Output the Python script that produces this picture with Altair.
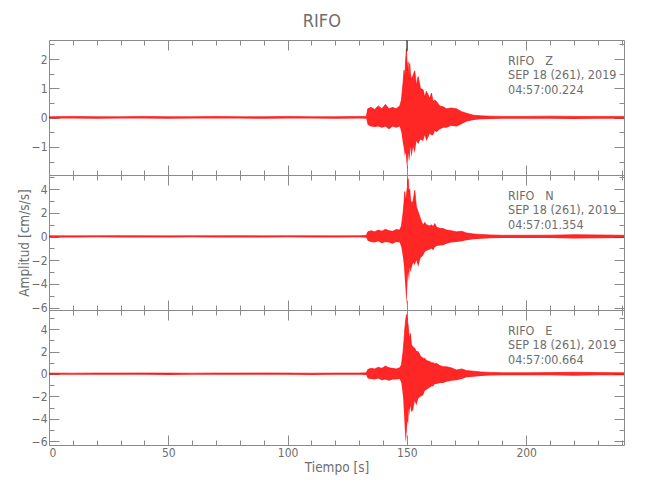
import altair as alt
import pandas as pd

# ---------------- data ----------------
STATION = "RIFO"
COMPONENTS = ["Z", "N", "E"]
DATE_LABEL = "SEP 18 (261), 2019"
START_TIMES = ["04:57:00.224", "04:57:01.354", "04:57:00.664"]

T = [0, 10, 20, 30, 40, 50, 60, 70, 80, 90, 100, 110, 120, 130,
     133.0, 133.6,
     135.0, 136.5, 138.0, 139.5, 141.0, 142.5, 144.0, 145.5, 147.0,
     147.7, 148.4, 148.8, 149.1, 149.5, 149.8, 150.2, 150.5, 150.9, 151.2, 151.5, 151.9,
     152.6, 153.3, 154.0, 154.7, 155.7, 156.8, 157.5, 158.2,
     159.6, 160.3, 161.0, 161.7, 162.4, 163.8, 165.2, 166.6, 168.5, 170.8,
     173.0, 175.0, 178.0, 181.0, 185.0,
     190, 200, 210, 220, 230, 241]

Z_HI = [0.03, 0.04, 0.03, 0.03, 0.04, 0.03, 0.03, 0.04, 0.03, 0.03, 0.04, 0.03, 0.03, 0.04,
        0.04, 0.30,
        0.35, 0.28, 0.40, 0.30, 0.45, 0.30, 0.35, 0.30, 0.40,
        0.60, 1.20, 1.62, 1.30, 2.00, 2.35, 1.60, 1.90, 1.30, 1.85, 1.50, 1.30,
        1.45, 1.60, 1.10, 1.40, 1.00, 0.95, 0.70, 0.90,
        0.65, 0.84, 0.55, 0.60, 0.55, 0.40, 0.37, 0.30, 0.33, 0.30,
        0.20, 0.15, 0.08, 0.06, 0.05,
        0.04, 0.04, 0.05, 0.04, 0.04, 0.04]
Z_LO = [-0.03, -0.03, -0.04, -0.03, -0.03, -0.04, -0.03, -0.03, -0.03, -0.04, -0.03, -0.03, -0.04, -0.03,
        -0.04, -0.25,
        -0.30, -0.32, -0.30, -0.35, -0.30, -0.40, -0.30, -0.35, -0.30,
        -0.50, -0.90, -1.07, -1.30, -1.20, -1.50, -1.76, -1.20, -1.50, -1.35, -1.00, -1.35,
        -1.00, -1.20, -0.80, -0.90, -0.75, -0.80, -0.60, -0.80,
        -0.55, -0.60, -0.60, -0.45, -0.50, -0.40, -0.35, -0.35, -0.28, -0.30,
        -0.22, -0.13, -0.08, -0.06, -0.05,
        -0.04, -0.04, -0.04, -0.05, -0.04, -0.04]

N_HI = [0.07, 0.06, 0.07, 0.08, 0.07, 0.06, 0.07, 0.07, 0.08, 0.06, 0.07, 0.07, 0.06, 0.07,
        0.09, 0.40,
        0.50, 0.40, 0.55, 0.45, 0.62, 0.50, 0.45, 0.60, 0.55,
        0.90, 2.00, 2.90, 3.80, 3.00, 3.50, 4.20, 4.90, 3.80, 4.00, 3.20, 2.80,
        3.00, 3.90, 2.50, 2.10, 1.50, 0.95, 1.20, 1.00,
        0.90, 1.00, 0.85, 1.10, 0.80, 0.70, 0.68, 0.55, 0.50, 0.40,
        0.45, 0.30, 0.22, 0.18, 0.14,
        0.11, 0.11, 0.12, 0.16, 0.14, 0.11]
N_LO = [-0.07, -0.07, -0.06, -0.07, -0.08, -0.07, -0.06, -0.07, -0.07, -0.08, -0.06, -0.07, -0.07, -0.06,
        -0.09, -0.35,
        -0.45, -0.50, -0.40, -0.56, -0.45, -0.50, -0.60, -0.45, -0.50,
        -0.90, -1.80, -2.50, -3.50, -4.60, -5.80, -4.00, -3.00, -3.80, -2.60, -3.00, -2.70,
        -2.20, -2.40, -2.00, -2.56, -1.80, -1.60, -1.30, -1.20,
        -1.10, -1.00, -1.15, -0.90, -0.80, -0.75, -0.73, -0.60, -0.50, -0.45,
        -0.40, -0.30, -0.22, -0.18, -0.14,
        -0.11, -0.11, -0.12, -0.16, -0.14, -0.11]

E_HI = [0.08, 0.07, 0.08, 0.08, 0.09, 0.08, 0.07, 0.08, 0.08, 0.09, 0.08, 0.07, 0.08, 0.08,
        0.10, 0.40,
        0.50, 0.45, 0.60, 0.50, 0.70, 0.55, 0.50, 0.45, 0.55,
        0.80, 2.00, 3.00, 4.00, 4.80, 5.30, 4.80, 4.40, 3.50, 3.20, 3.60, 2.60,
        2.40, 2.30, 2.00, 2.00, 1.60, 1.40, 1.40, 1.20,
        1.10, 1.00, 1.00, 0.90, 0.95, 0.75, 0.65, 0.65, 0.55, 0.36,
        0.45, 0.30, 0.25, 0.18, 0.14,
        0.11, 0.11, 0.12, 0.15, 0.12, 0.11]
E_LO = [-0.08, -0.08, -0.07, -0.08, -0.08, -0.09, -0.08, -0.08, -0.07, -0.08, -0.08, -0.09, -0.08, -0.08,
        -0.10, -0.40,
        -0.45, -0.50, -0.40, -0.55, -0.50, -0.60, -0.50, -0.50, -0.45,
        -0.80, -2.00, -3.50, -4.80, -6.10, -5.50, -4.20, -4.50, -3.00, -3.70, -2.80, -3.40,
        -3.20, -2.40, -2.80, -2.20, -2.00, -1.90, -1.50, -1.40,
        -1.20, -1.10, -1.10, -0.90, -0.90, -0.80, -0.80, -0.70, -0.60, -0.55,
        -0.45, -0.30, -0.25, -0.18, -0.14,
        -0.11, -0.11, -0.12, -0.15, -0.12, -0.11]

X_DOMAIN = [0, 241]
X_MAJOR = [0, 50, 100, 150, 200]
X_MINOR = [10, 20, 30, 40, 60, 70, 80, 90, 110, 120, 130, 140, 160, 170, 180, 190, 210, 220, 230, 240]

Y_DOMAINS = [[-1.96, 2.65], [-6.2, 5.2], [-6.33, 5.7]]
Y_MAJOR = [[-1, 0, 1, 2], [-6, -4, -2, 0, 2, 4], [-6, -4, -2, 0, 2, 4]]
Y_MINOR = [[-1.5, -0.5, 0.5, 1.5, 2.5], [-5, -3, -1, 1, 3, 5], [-5, -3, -1, 1, 3, 5]]

PICK_T = [150]
PICK_Y = [2.65, 2.25]

# ---------------- styling ----------------
W = 575
H = 135
FONT = "Liberation Sans Narrow, DejaVu Sans Condensed, Liberation Sans, sans-serif"
GRAY = "#8a8a8a"
TXT = "#6e6e6e"
RED = "#ff0000"

SERIES = [(Z_HI, Z_LO), (N_HI, N_LO), (E_HI, E_LO)]


def panel(i):
    hi, lo = SERIES[i]
    df = pd.DataFrame({"t": T, "hi": hi, "lo": lo})
    xs = alt.Scale(domain=X_DOMAIN, nice=False, zero=False)
    ys = alt.Scale(domain=Y_DOMAINS[i], nice=False, zero=False)
    last = i == 2
    base = alt.Chart(df)

    yaxis_kw = dict(orient="left", values=Y_MAJOR[i], tickSize=0, domain=False,
                    grid=False, labelPadding=2)
    if i == 1:
        yaxis_kw.update(title="Amplitud  [cm/s/s]", titleX=-18)
    else:
        yaxis_kw.update(title=None)

    area = base.mark_area(color=RED, fillOpacity=0.85, line={"color": RED, "strokeWidth": 0.6},
                          interpolate="linear").encode(
        x=alt.X("t:Q", scale=xs,
                axis=alt.Axis(orient="bottom", values=X_MAJOR, labels=last, tickSize=0,
                              domain=False, grid=False, labelPadding=2,
                              title="Tiempo  [s]" if last else None, titlePadding=2)),
        y=alt.Y("hi:Q", scale=ys, axis=alt.Axis(**yaxis_kw)),
        y2="lo:Q",
    )

    def ticks(xvals, yvals, size, xorient, yorient):
        return base.mark_point(opacity=0).encode(
            x=alt.X("t:Q", scale=xs,
                    axis=alt.Axis(orient=xorient, offset=-H, values=xvals, tickSize=size,
                                  labels=False, domain=False, grid=False, title=None)),
            y=alt.Y("hi:Q", scale=ys,
                    axis=alt.Axis(orient=yorient, offset=-W, values=yvals, tickSize=size,
                                  labels=False, domain=False, grid=False, title=None)),
        )

    layers = [
        area,
        ticks(X_MAJOR, Y_MAJOR[i], 10, "top", "right"),
        ticks(X_MINOR, Y_MINOR[i], 5, "top", "right"),
        ticks(X_MAJOR, Y_MAJOR[i], 10, "bottom", "left"),
        ticks(X_MINOR, Y_MINOR[i], 5, "bottom", "left"),
    ]

    if i == 0:
        pick = alt.Chart(pd.DataFrame({"t": PICK_T, "y1": [PICK_Y[0]], "y2": [PICK_Y[1]]})).mark_rule(
            color="#333333", strokeWidth=1).encode(
            x=alt.X("t:Q", scale=xs, axis=None),
            y=alt.Y("y1:Q", scale=ys, axis=None),
            y2="y2:Q",
        )
        layers.append(pick)

    label = STATION + "\u00a0\u00a0\u00a0" + COMPONENTS[i] + "\n" + DATE_LABEL + "\n" + START_TIMES[i]
    txt = alt.Chart(pd.DataFrame({"lab": [label]})).mark_text(
        align="left", baseline="top", lineBreak="\n", lineHeight=14.5,
        font=FONT, fontSize=12.5, color=TXT).encode(
        text="lab:N", x=alt.value(459), y=alt.value(14.5))
    layers.append(txt)

    return alt.layer(*layers).resolve_axis(x="independent", y="independent").properties(
        width=W, height=H)


chart = alt.vconcat(panel(0), panel(1), panel(2), spacing=0, bounds="flush").properties(
    title=alt.Title(STATION, fontSize=18, font=FONT, color=TXT, fontWeight="normal",
                    anchor="middle", offset=8),
    padding={"left": 8, "top": 5, "right": 5, "bottom": 5},
).configure_view(
    stroke=GRAY, strokeWidth=1
).configure_axis(
    labelFont=FONT, labelFontSize=12, labelColor=TXT,
    titleFont=FONT, titleFontSize=13.5, titleColor=TXT, titleFontWeight="normal",
    tickColor=GRAY, tickWidth=1,
)

chart.save("out.html", embed_options={"renderer": "svg", "actions": False})
